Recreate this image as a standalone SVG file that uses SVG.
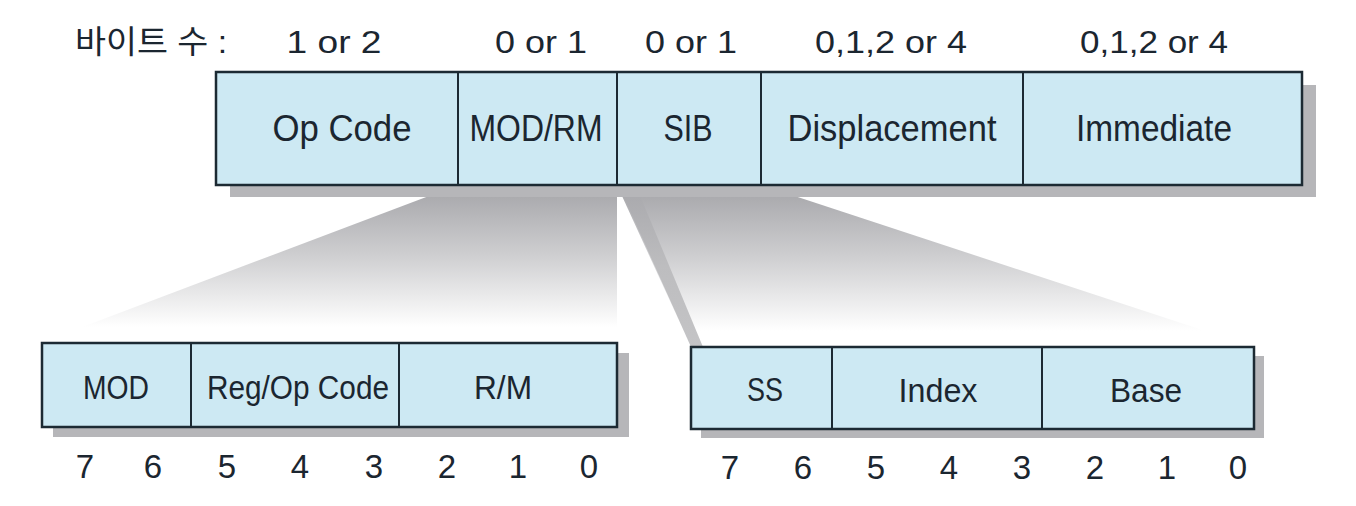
<svg xmlns="http://www.w3.org/2000/svg" width="1356" height="506" viewBox="0 0 1356 506">
  <defs>
    <linearGradient id="fanGrad" x1="0" y1="0" x2="0" y2="1">
      <stop offset="0" stop-color="#a4a4a8"/>
      <stop offset="0.45" stop-color="#cfcfd1"/>
      <stop offset="0.9" stop-color="#ffffff"/>
    </linearGradient>
    <linearGradient id="stripGrad" x1="0" y1="0" x2="0" y2="1">
      <stop offset="0" stop-color="#a8a8ac"/>
      <stop offset="0.5" stop-color="#bdbdbf"/>
      <stop offset="1" stop-color="#c4c4c6"/>
    </linearGradient>
    <style>
      .box { fill: #cde9f3; stroke: #1c2a33; stroke-width: 2.5; }
      .div { stroke: #1c2a33; stroke-width: 2; }
      .shadow { fill: #b6b6b9; }
      .lbl { font-family: "Liberation Sans", Arial, sans-serif; fill: #1b2630; text-anchor: middle; }
      .hdr { font-family: "Liberation Sans", "Noto Sans CJK KR", sans-serif; fill: #1b2630; font-size: 32px; }
      .top { font-size: 36px; }
      .bot { font-size: 33px; }
      .bit { font-family: "Liberation Sans", Arial, sans-serif; fill: #1b2630; font-size: 33px; text-anchor: middle; }
    </style>
  </defs>
  <rect width="1356" height="506" fill="#ffffff"/>

  <g id="connectors">
    <polygon points="458,185 617,185 617,343 40,343" fill="url(#fanGrad)"/>
    <polygon points="617,185 761,185 1254,347 691,347" fill="url(#fanGrad)"/>
    <polygon points="619,186 636,186 703,347 691,347" fill="url(#stripGrad)"/>
  </g>

  <g id="header">
    <text class="hdr" x="75" y="53" textLength="152" lengthAdjust="spacingAndGlyphs">바이트 수 :</text>
    <text class="hdr" x="334" y="53" text-anchor="middle" textLength="95" lengthAdjust="spacingAndGlyphs">1 or 2</text>
    <text class="hdr" x="541" y="53" text-anchor="middle" textLength="92" lengthAdjust="spacingAndGlyphs">0 or 1</text>
    <text class="hdr" x="691" y="53" text-anchor="middle" textLength="92" lengthAdjust="spacingAndGlyphs">0 or 1</text>
    <text class="hdr" x="891" y="53" text-anchor="middle" textLength="152" lengthAdjust="spacingAndGlyphs">0,1,2 or 4</text>
    <text class="hdr" x="1154" y="53" text-anchor="middle" textLength="148" lengthAdjust="spacingAndGlyphs">0,1,2 or 4</text>
  </g>

  <g id="instruction-format">
    <rect class="shadow" x="230" y="85" width="1086" height="112"/>
    <rect class="box" x="216" y="72" width="1086" height="113"/>
    <line class="div" x1="458" y1="72" x2="458" y2="185"/>
    <line class="div" x1="617" y1="72" x2="617" y2="185"/>
    <line class="div" x1="761" y1="72" x2="761" y2="185"/>
    <line class="div" x1="1023" y1="72" x2="1023" y2="185"/>
    <text class="lbl top" x="342" y="141" textLength="139" lengthAdjust="spacingAndGlyphs">Op Code</text>
    <text class="lbl top" x="536" y="141" textLength="133" lengthAdjust="spacingAndGlyphs">MOD/RM</text>
    <text class="lbl top" x="688" y="141" textLength="49" lengthAdjust="spacingAndGlyphs">SIB</text>
    <text class="lbl top" x="892" y="141" textLength="209" lengthAdjust="spacingAndGlyphs">Displacement</text>
    <text class="lbl top" x="1154" y="141" textLength="156" lengthAdjust="spacingAndGlyphs">Immediate</text>
  </g>

  <g id="modrm-byte">
    <rect class="shadow" x="53" y="353" width="576" height="84"/>
    <rect class="box" x="42" y="343" width="575" height="84"/>
    <line class="div" x1="191" y1="343" x2="191" y2="427"/>
    <line class="div" x1="399" y1="343" x2="399" y2="427"/>
    <text class="lbl bot" x="116" y="399" textLength="66" lengthAdjust="spacingAndGlyphs">MOD</text>
    <text class="lbl bot" x="298" y="399" textLength="182" lengthAdjust="spacingAndGlyphs">Reg/Op Code</text>
    <text class="lbl bot" x="503" y="399" textLength="58" lengthAdjust="spacingAndGlyphs">R/M</text>
    <text class="bit" x="85" y="478">7</text>
    <text class="bit" x="153" y="478">6</text>
    <text class="bit" x="227" y="478">5</text>
    <text class="bit" x="300" y="478">4</text>
    <text class="bit" x="374" y="478">3</text>
    <text class="bit" x="447" y="478">2</text>
    <text class="bit" x="518" y="478">1</text>
    <text class="bit" x="589" y="478">0</text>
  </g>

  <g id="sib-byte">
    <rect class="shadow" x="701" y="356" width="563" height="82"/>
    <rect class="box" x="691" y="347" width="563" height="82"/>
    <line class="div" x1="832" y1="347" x2="832" y2="429"/>
    <line class="div" x1="1042" y1="347" x2="1042" y2="429"/>
    <text class="lbl bot" x="765" y="401" textLength="36" lengthAdjust="spacingAndGlyphs">SS</text>
    <text class="lbl bot" x="938" y="402" textLength="79" lengthAdjust="spacingAndGlyphs">Index</text>
    <text class="lbl bot" x="1146" y="402" textLength="72" lengthAdjust="spacingAndGlyphs">Base</text>
    <text class="bit" x="730" y="479">7</text>
    <text class="bit" x="803" y="479">6</text>
    <text class="bit" x="876" y="479">5</text>
    <text class="bit" x="949" y="479">4</text>
    <text class="bit" x="1022" y="479">3</text>
    <text class="bit" x="1095" y="479">2</text>
    <text class="bit" x="1167" y="479">1</text>
    <text class="bit" x="1238" y="479">0</text>
  </g>
</svg>
